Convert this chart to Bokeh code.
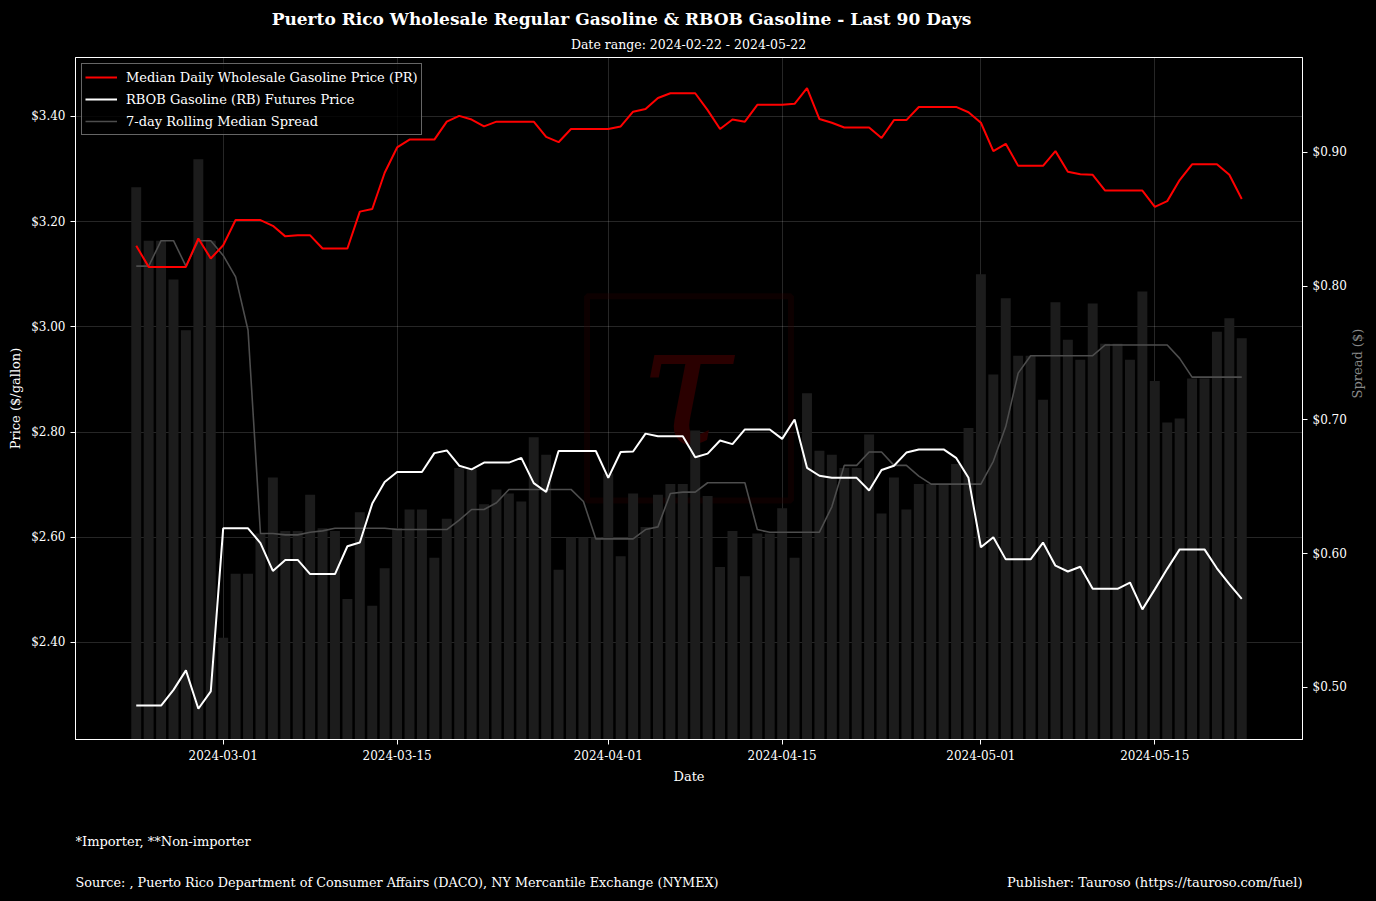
import math
import pandas as pd
from bokeh.plotting import figure
from bokeh.models import (Range1d, LinearAxis, FixedTicker, NumeralTickFormatter,
                          DatetimeTickFormatter, Legend, LegendItem, BoxAnnotation, Label)
from bokeh.layouts import column
from bokeh.embed import file_html
from bokeh.resources import INLINE

FONT = "DejaVu Serif"

# ---------------- data ----------------
dates = pd.date_range("2024-02-23", "2024-05-22", freq="D")

pr_price = [
    3.154, 3.114, 3.114, 3.114, 3.114, 3.168, 3.130, 3.155, 3.203, 3.203,
    3.203, 3.192, 3.172, 3.174, 3.174, 3.149, 3.149, 3.149, 3.219, 3.224,
    3.293, 3.341, 3.356, 3.356, 3.356, 3.390, 3.401, 3.394, 3.381, 3.390,
    3.390, 3.390, 3.390, 3.361, 3.351, 3.376, 3.376, 3.376, 3.376, 3.381,
    3.409, 3.414, 3.435, 3.444, 3.444, 3.444, 3.412, 3.376, 3.394, 3.390,
    3.422, 3.422, 3.422, 3.424, 3.454, 3.395, 3.388, 3.379, 3.379, 3.379,
    3.359, 3.393, 3.393, 3.418, 3.418, 3.418, 3.418, 3.408, 3.388, 3.334,
    3.348, 3.306, 3.306, 3.306, 3.334, 3.295, 3.290, 3.289, 3.259, 3.259,
    3.259, 3.259, 3.228, 3.239, 3.279, 3.309, 3.309, 3.309, 3.289, 3.243,
]

rbob_price = [
    2.280, 2.280, 2.280, 2.310, 2.347, 2.274, 2.307, 2.617, 2.617, 2.617,
    2.589, 2.536, 2.557, 2.557, 2.530, 2.530, 2.530, 2.583, 2.590, 2.664,
    2.705, 2.724, 2.724, 2.724, 2.760, 2.765, 2.736, 2.729, 2.742, 2.742,
    2.742, 2.751, 2.703, 2.686, 2.764, 2.764, 2.764, 2.764, 2.713, 2.762,
    2.763, 2.797, 2.792, 2.792, 2.792, 2.752, 2.759, 2.784, 2.777, 2.805,
    2.805, 2.805, 2.787, 2.824, 2.732, 2.717, 2.713, 2.713, 2.713, 2.689,
    2.728, 2.736, 2.761, 2.767, 2.767, 2.767, 2.751, 2.713, 2.581, 2.600,
    2.558, 2.558, 2.558, 2.590, 2.546, 2.535, 2.544, 2.502, 2.502, 2.502,
    2.514, 2.463, 2.501, 2.540, 2.577, 2.577, 2.577, 2.541, 2.511, 2.483,
]

spread = [
    0.874, 0.834, 0.834, 0.805, 0.767, 0.895, 0.834, 0.537, 0.585, 0.585,
    0.615, 0.657, 0.617, 0.617, 0.644, 0.619, 0.617, 0.566, 0.631, 0.561,
    0.589, 0.619, 0.633, 0.633, 0.597, 0.626, 0.664, 0.663, 0.637, 0.648,
    0.645, 0.639, 0.687, 0.674, 0.588, 0.612, 0.612, 0.612, 0.660, 0.598,
    0.645, 0.620, 0.644, 0.652, 0.652, 0.692, 0.643, 0.590, 0.617, 0.583,
    0.615, 0.615, 0.634, 0.597, 0.720, 0.677, 0.674, 0.664, 0.664, 0.689,
    0.630, 0.657, 0.633, 0.652, 0.652, 0.652, 0.667, 0.694, 0.809, 0.734,
    0.791, 0.748, 0.748, 0.715, 0.788, 0.760, 0.745, 0.787, 0.757, 0.757,
    0.745, 0.796, 0.729, 0.698, 0.701, 0.731, 0.731, 0.766, 0.776, 0.761,
]

spread_7d_median = [
    0.815, 0.815, 0.834, 0.834, 0.815, 0.834, 0.834, 0.823, 0.807, 0.767,
    0.615, 0.615, 0.614, 0.614, 0.616, 0.617, 0.619, 0.619, 0.619, 0.619,
    0.619, 0.618, 0.618, 0.618, 0.618, 0.618, 0.625, 0.633, 0.633, 0.638,
    0.648, 0.648, 0.648, 0.648, 0.648, 0.648, 0.639, 0.611, 0.611, 0.611,
    0.611, 0.618, 0.620, 0.645, 0.646, 0.646, 0.653, 0.653, 0.653, 0.653,
    0.618, 0.616, 0.616, 0.616, 0.616, 0.616, 0.635, 0.666, 0.666, 0.676,
    0.676, 0.666, 0.666, 0.658, 0.652, 0.652, 0.652, 0.652, 0.652, 0.669,
    0.695, 0.735, 0.748, 0.748, 0.748, 0.748, 0.748, 0.748, 0.756, 0.756,
    0.756, 0.756, 0.756, 0.756, 0.746, 0.732, 0.732, 0.732, 0.732, 0.732,
]

date_ticks = ["2024-03-01", "2024-03-15", "2024-04-01", "2024-04-15", "2024-05-01", "2024-05-15"]
price_ticks = [2.40, 2.60, 2.80, 3.00, 3.20, 3.40]
spread_ticks = [0.50, 0.60, 0.70, 0.80, 0.90]

TITLE = "Puerto Rico Wholesale Regular Gasoline & RBOB Gasoline - Last 90 Days"
SUBTITLE = "Date range: 2024-02-22 - 2024-05-22"
NOTE = "*Importer, **Non-importer"
SOURCE = "Source: , Puerto Rico Department of Consumer Affairs (DACO), NY Mercantile Exchange (NYMEX)"
PUBLISHER = "Publisher: Tauroso (https://tauroso.com/fuel)"


def ms(s):
    return pd.Timestamp(s).value / 1e6


DAY = 86400000.0
W = 1376
FL, FR = 75, 1302        # frame left / right edges in page pixels
HDR_H, MAIN_H, FTR_H = 52, 748, 101
BLACK_BG = {"background-color": "black"}


def text_strip(height):
    # a bare strip whose frame lines up with the chart frame (column aligns frames)
    f = figure(width=W, height=height, x_range=Range1d(FL, FR), y_range=Range1d(height, 0),
               output_backend="svg", toolbar_location=None,
               min_border_left=FL, min_border_right=W - FR, min_border_top=0, min_border_bottom=0,
               x_axis_location=None, y_axis_location=None,
               background_fill_color="black", border_fill_color="black",
               outline_line_color="black", outline_line_width=3)
    f.xgrid.visible = False
    f.ygrid.visible = False
    f.styles = BLACK_BG
    return f


def add_text(f, x, y, text, size, align="left", style="normal"):
    f.add_layout(Label(x=x, y=y, text=text, text_font=FONT, text_font_size=size,
                       text_font_style=style, text_color="white",
                       text_align=align, text_baseline="middle"))


# ---------------- header ----------------
hdr = text_strip(HDR_H)
add_text(hdr, 621, 18, TITLE, "17px", "center", "bold")
add_text(hdr, 688, 44, SUBTITLE, "12.5px", "center")

# ---------------- main chart ----------------
x_start = ms(dates[0]) - 4.89 * DAY
x_end = ms(dates[-1]) + 4.89 * DAY

p = figure(width=W, height=MAIN_H, x_axis_type="datetime",
           x_range=Range1d(x_start, x_end), y_range=Range1d(2.2156, 3.512),
           output_backend="svg", toolbar_location=None,
           min_border_left=FL, min_border_right=W - FR, min_border_top=5, min_border_bottom=61,
           background_fill_color="black", border_fill_color="black",
           outline_line_color="white", outline_line_width=1)
p.styles = BLACK_BG
p.extra_y_ranges = {"spread": Range1d(0.461, 0.971)}

# watermark
p.add_layout(BoxAnnotation(left=ms("2024-03-30 07:00"), right=ms("2024-04-15 17:00"),
                           top=3.058, bottom=2.670, fill_alpha=0,
                           line_color="#2a0000", line_width=6, level="underlay"))
p.add_layout(Label(x=ms("2024-04-07 06:00"), y=2.89, text="τ", text_font=FONT,
                   text_font_style="italic",
                   text_font_size="170px", text_color="#2a0000", text_align="center",
                   text_baseline="middle", level="underlay"))

bars = p.vbar(x=dates, top=spread, bottom=0, width=0.8 * DAY, y_range_name="spread",
              fill_color="#1c1c1c", line_color=None)
r_med = p.line(dates, spread_7d_median, y_range_name="spread", line_color="#4d4d4d", line_width=1.6)
r_pr = p.line(dates, pr_price, line_color="#ff0000", line_width=2)
r_rb = p.line(dates, rbob_price, line_color="#ffffff", line_width=2)


def style_axis(ax):
    ax.axis_line_color = "white"
    ax.major_tick_line_color = "white"
    ax.minor_tick_line_color = None
    ax.major_tick_in = 0
    ax.major_tick_out = 5
    ax.major_label_text_color = "white"
    ax.major_label_text_font = FONT
    ax.major_label_text_font_size = "12px"
    ax.major_label_standoff = 5
    ax.axis_label_text_font = FONT
    ax.axis_label_text_font_size = "13px"
    ax.axis_label_text_font_style = "normal"
    ax.axis_label_text_color = "white"


xa = p.xaxis[0]
style_axis(xa)
xa.ticker = FixedTicker(ticks=[ms(d) for d in date_ticks])
xa.formatter = DatetimeTickFormatter(days="%Y-%m-%d", months="%Y-%m-%d", years="%Y-%m-%d",
                                     hours="%Y-%m-%d", hourmin="%Y-%m-%d")
xa.axis_label = "Date"
xa.axis_label_standoff = 6

ya = p.yaxis[0]
style_axis(ya)
ya.ticker = FixedTicker(ticks=price_ticks)
ya.formatter = NumeralTickFormatter(format="$0.00")
ya.axis_label = "Price ($/gallon)"
ya.axis_label_standoff = 5

ra = LinearAxis(y_range_name="spread")
style_axis(ra)
ra.ticker = FixedTicker(ticks=spread_ticks)
ra.formatter = NumeralTickFormatter(format="$0.00")
ra.axis_label = "Spread ($)"
ra.axis_label_text_color = "#888888"
ra.axis_label_standoff = 8
if "axis_label_orientation" in LinearAxis.properties():
    ra.axis_label_orientation = math.pi / 2
p.add_layout(ra, "right")

p.xgrid.ticker = FixedTicker(ticks=[ms(d) for d in date_ticks])
p.ygrid.ticker = FixedTicker(ticks=price_ticks)
for g in (p.xgrid[0], p.ygrid[0]):
    g.grid_line_color = "white"
    g.grid_line_alpha = 0.15
    g.grid_line_width = 1

legend = Legend(items=[
    LegendItem(label="Median Daily Wholesale Gasoline Price (PR)", renderers=[r_pr]),
    LegendItem(label="RBOB Gasoline (RB) Futures Price", renderers=[r_rb]),
    LegendItem(label="7-day Rolling Median Spread", renderers=[r_med]),
], location="top_left")
legend.label_text_font = FONT
legend.label_text_font_size = "13px"
legend.label_text_color = "white"
legend.background_fill_color = "black"
legend.background_fill_alpha = 0.8
legend.border_line_color = "#cccccc"
legend.border_line_width = 1
legend.glyph_width = 32
legend.glyph_height = 20
legend.label_height = 20
legend.spacing = 2
legend.padding = 3
legend.margin = 6
legend.label_standoff = 9
p.add_layout(legend)

# ---------------- footer ----------------
ftr = text_strip(FTR_H)
add_text(ftr, 75, 41, NOTE, "13px", "left")
add_text(ftr, 75, 82, SOURCE, "12.8px", "left")
add_text(ftr, 1302, 82, PUBLISHER, "13px", "right")

layout = column(hdr, p, ftr, spacing=0)
layout.styles = BLACK_BG
open("out.html", "w").write(file_html(layout, INLINE))
